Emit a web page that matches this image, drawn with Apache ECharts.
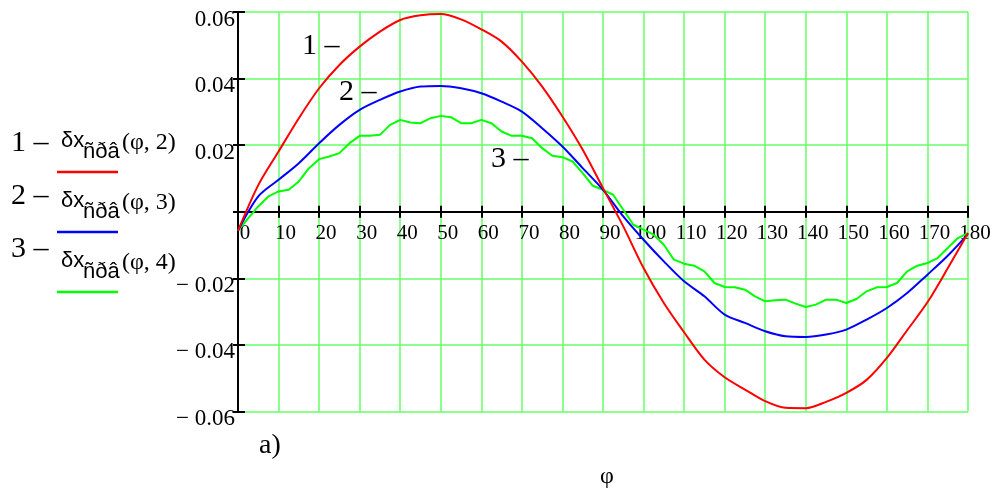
<!DOCTYPE html>
<html>
<head>
<meta charset="utf-8">
<script src="https://cdn.jsdelivr.net/npm/echarts@6/dist/echarts.min.js"></script>
<style>
html,body{margin:0;padding:0;background:#fff;}
#chart{width:996px;height:490px;}
</style>
</head>
<body>
<div id="chart"></div>
<script>
// ---- data ----
var phi5 = [0,5,10,15,20,25,30,35,40,45,50,55,60,65,70,75,80,85,90,95,100,105,110,115,120,125,130,135,140,145,150,155,160,165,170,175,180];
var curve1 = [-0.0057,0.0080,0.0181,0.0281,0.0371,0.0441,0.0496,0.0541,0.0576,0.0590,0.0594,0.0578,0.0548,0.0511,0.0451,0.0376,0.0286,0.0186,0.0071,-0.0044,-0.0169,-0.0274,-0.0362,-0.0444,-0.0497,-0.0534,-0.0569,-0.0589,-0.0590,-0.0571,-0.0544,-0.0505,-0.0439,-0.0356,-0.0272,-0.0170,-0.0064];
var curve2 = [-0.0057,0.0046,0.0096,0.0146,0.0206,0.0261,0.0306,0.0336,0.0361,0.0376,0.0378,0.0371,0.0356,0.0331,0.0301,0.0251,0.0196,0.0131,0.0066,-0.0014,-0.0084,-0.0149,-0.0209,-0.0254,-0.0309,-0.0334,-0.0359,-0.0374,-0.0376,-0.0369,-0.0354,-0.0324,-0.0289,-0.0244,-0.0189,-0.0132,-0.0067];
var phi25 = [0,2.5,5,7.5,10,12.5,15,17.5,20,22.5,25,27.5,30,32.5,35,37.5,40,42.5,45,47.5,50,52.5,55,57.5,60,62.5,65,67.5,70,72.5,75,77.5,80,82.5,85,87.5,90,92.5,95,97.5,100,102.5,105,107.5,110,112.5,115,117.5,120,122.5,125,127.5,130,132.5,135,137.5,140,142.5,145,147.5,150,152.5,155,157.5,160,162.5,165,167.5,170,172.5,175,177.5,180];
var curve3 = [-0.0057,-0.0020,0.0016,0.0046,0.0061,0.0066,0.0091,0.0131,0.0158,0.0166,0.0176,0.0206,0.0228,0.0228,0.0231,0.0261,0.0276,0.0268,0.0266,0.0281,0.0288,0.0284,0.0266,0.0266,0.0276,0.0266,0.0241,0.0228,0.0228,0.0221,0.0191,0.0168,0.0164,0.0151,0.0116,0.0078,0.0066,0.0051,0.0006,-0.0039,-0.0054,-0.0069,-0.0099,-0.0144,-0.0156,-0.0162,-0.0179,-0.0214,-0.0226,-0.0227,-0.0234,-0.0254,-0.0269,-0.0266,-0.0264,-0.0276,-0.0286,-0.0279,-0.0264,-0.0264,-0.0274,-0.0262,-0.0239,-0.0227,-0.0226,-0.0214,-0.0179,-0.0162,-0.0154,-0.0139,-0.0109,-0.0079,-0.0064];
var xTicks = {min:0, max:180, step:10};
var yTicks = {min:-0.06, max:0.06, step:0.02};
var curveLabels = ['1 –','2 –','3 –'];
var legendArgs = ['(φ, 2)','(φ, 3)','(φ, 4)'];
var colors = ['#ff0000','#0000ff','#00ff00'];

function pairs(xs, ys){ var out=[]; for(var i=0;i<xs.length;i++){ out.push([xs[i], ys[i]]); } return out; }

var SERIF = 'Liberation Serif';
var SANS = 'Liberation Sans';
var GRID_GREEN = '#66ff66';

var chart = echarts.init(document.getElementById('chart'), null, {renderer:'canvas'});

function yFmt(v){
  if (Math.abs(v) < 1e-9) return '';
  if (v < 0) return '\u2212 ' + (-v).toFixed(2);
  return v.toFixed(2);
}

var graphics = [];
function txt(x, y, s, font, color){
  graphics.push({type:'text', x:x, y:y, z:100, silent:true,
    style:{text:s, font:font, fill:color||'#000', align:'left', verticalAlign:'middle', textAlign:'left', textVerticalAlign:'middle'}});
}
function seg(x1,y1,x2,y2,color){
  graphics.push({type:'line', z:100, silent:true, shape:{x1:x1,y1:y1,x2:x2,y2:y2}, style:{stroke:color, lineWidth:2.5}});
}
// legend entries
var legLines = [172, 232, 292];
var legNum = [143, 196, 249];
for (var i=0;i<3;i++){
  var ly = legLines[i];
  txt(11, legNum[i], curveLabels[i], '30px "' + SERIF + '"');
  txt(61, ly-31, 'δx', '22px "' + SANS + '"');
  txt(83, ly-20, 'ñðâ', '22px "' + SANS + '"');
  txt(122, ly-29, legendArgs[i], '24px "' + SERIF + '"');
  seg(57, ly, 118, ly, colors[i]);
}
// curve labels
txt(302, 46, curveLabels[0], '30px "' + SERIF + '"');
txt(339, 92, curveLabels[1], '30px "' + SERIF + '"');
txt(491, 159, curveLabels[2], '30px "' + SERIF + '"');
// panel label and axis title
txt(259, 446, 'a)', '28px "' + SERIF + '"');
txt(600, 477, 'φ', '24px "' + SERIF + '"');

var GRID_TOP = 12, GRID_BOTTOM = 78.5;
var zeroOffset = -(490 - GRID_BOTTOM - GRID_TOP) / 2;

var option = {
  animation:false,
  backgroundColor:'#ffffff',
  grid:{left:238, right:28, top:GRID_TOP, bottom:GRID_BOTTOM, containLabel:false},
  xAxis:[{
    type:'value', min:xTicks.min, max:xTicks.max, interval:xTicks.step, position:'bottom', offset:zeroOffset,
    axisLine:{show:true, onZero:false, lineStyle:{color:'#000', width:2}},
    axisTick:{show:true, length:6, lineStyle:{color:'#000', width:2}},
    axisLabel:{show:true, color:'#000', fontFamily:SERIF, fontSize:21, margin:11.5, padding:[0,0,0,14], showMinLabel:true, showMaxLabel:true},
    splitLine:{show:true, lineStyle:{color:GRID_GREEN, width:1.5}}
  },{
    type:'value', min:xTicks.min, max:xTicks.max, interval:xTicks.step, position:'bottom', offset:zeroOffset,
    axisLine:{show:false, onZero:false},
    axisTick:{show:true, inside:true, length:6, lineStyle:{color:'#000', width:2}},
    axisLabel:{show:false}, splitLine:{show:false}
  }],
  yAxis:[{
    type:'value', min:yTicks.min, max:yTicks.max, interval:yTicks.step, position:'left',
    axisLine:{show:true, onZero:false, lineStyle:{color:'#000', width:2}},
    axisTick:{show:true, length:5, lineStyle:{color:'#000', width:2}},
    axisLabel:{show:true, color:'#000', fontFamily:SERIF, fontSize:23, margin:3, verticalAlign:'top', padding:[-4,0,0,0], formatter:yFmt, showMinLabel:true, showMaxLabel:true},
    splitLine:{show:true, lineStyle:{color:GRID_GREEN, width:1.5}}
  },{
    type:'value', min:yTicks.min, max:yTicks.max, interval:yTicks.step, position:'left',
    axisLine:{show:false, onZero:false},
    axisTick:{show:true, inside:true, length:7, lineStyle:{color:'#000', width:2}},
    axisLabel:{show:false}, splitLine:{show:false}
  }],
  series:[
    {type:'line', xAxisIndex:0, yAxisIndex:0, data:pairs(phi5, curve1), showSymbol:false, smooth:0.3, lineStyle:{color:colors[0], width:2}, z:5},
    {type:'line', xAxisIndex:0, yAxisIndex:0, data:pairs(phi5, curve2), showSymbol:false, smooth:0.3, lineStyle:{color:colors[1], width:2}, z:4},
    {type:'line', xAxisIndex:0, yAxisIndex:0, data:pairs(phi25, curve3), showSymbol:false, smooth:false, lineStyle:{color:colors[2], width:2}, z:3}
  ],
  graphic:graphics
};
chart.setOption(option);
</script>
</body>
</html>
